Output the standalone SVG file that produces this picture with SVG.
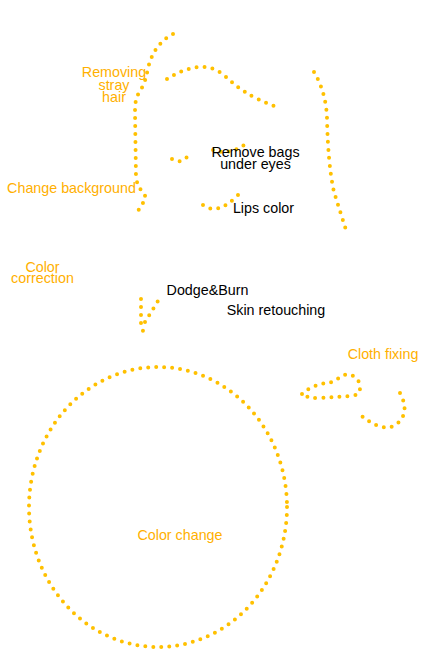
<svg xmlns="http://www.w3.org/2000/svg" width="435" height="653" viewBox="0 0 435 653">
<style>
.d{fill:none;stroke:#FFC000;stroke-width:4;stroke-linecap:round;stroke-dasharray:0 8}
.o{font-family:"Liberation Sans",Arial,sans-serif;font-size:14.3px;fill:#FFB000;text-anchor:middle}
.k{font-family:"Liberation Sans",Arial,sans-serif;font-size:14.3px;fill:#000;text-anchor:middle}
</style>
<rect width="435" height="653" fill="#fff"/>
<g id="strokes">
<path id="hair-left" class="d" d="M173,34 Q152,45 147,73 Q145,84 137,96 Q135,102 135,112 L136,178 Q138,188 143,192 Q148,198 142,204 L137,213"/>
<path id="hair-top" class="d" d="M167,79 C185,68 207,60 225,76 C238,88 250,97 274,106"/>
<path id="hair-right" class="d" d="M314,72 Q326,92 327,118 Q328,165 334,192 L346,230"/>
<path id="eye-left" class="d" d="M172,159 Q183,166 191,151"/>
<path id="eye-right" class="d" d="M213,150 Q230,156 247,143"/>
<path id="lips" class="d" d="M203,205 Q218,216 238,195"/>
<path id="nose" class="d" d="M141,299 L141,323 L143,331 M145,322 L158,301"/>
<path id="cloth-1" class="d" d="M302,394 Q312,384 334,382 Q348,368 358,380 Q364,394 352,396 L318,398 Q306,398 302,394"/>
<path id="cloth-2" class="d" d="M400,393 Q410,412 398,423 Q384,436 357,412"/>
<ellipse id="color-change-ring" class="d" cx="158" cy="507" rx="129" ry="140"/>
</g>
<g id="labels">
<text class="o" x="114" y="77">Removing</text>
<text class="o" x="114" y="90">stray</text>
<text class="o" x="114" y="102">hair</text>
<text class="o" x="71.5" y="193">Change background</text>
<text class="k" x="255.5" y="157">Remove bags</text>
<text class="k" x="255.5" y="169">under eyes</text>
<text class="k" x="263.5" y="213">Lips color</text>
<text class="o" x="42.5" y="272">Color</text>
<text class="o" x="42.5" y="283">correction</text>
<text class="k" x="207.5" y="295">Dodge&amp;Burn</text>
<text class="k" x="276" y="314.5">Skin retouching</text>
<text class="o" x="383" y="358.5">Cloth fixing</text>
<text class="o" x="180" y="540">Color change</text>
</g>
</svg>
